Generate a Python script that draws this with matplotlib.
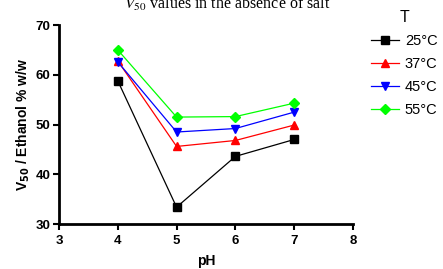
import matplotlib
matplotlib.use("Agg")
import matplotlib.pyplot as plt

# ------------------ DATOS ------------------
ph = [4, 5, 6, 7]
v50_25 = [58.8, 33.4, 43.6, 47.0]
v50_37 = [62.8, 45.6, 46.8, 49.9]
v50_45 = [62.6, 48.5, 49.2, 52.5]
v50_55 = [65.0, 51.5, 51.6, 54.3]
etiquetas = ["25°C", "37°C", "45°C", "55°C"]
colores = ["black", "#ff0000", "#0000ff", "#00ff00"]
marcadores = ["s", "^", "v", "D"]

plt.rcParams['font.family'] = ['Liberation Sans', 'DejaVu Sans']

fig = plt.figure(figsize=(4.43, 2.69), dpi=100)
ax = fig.add_axes([0.133, 0.167, 0.664, 0.74])

series = [v50_25, v50_37, v50_45, v50_55]
for y, lab, c, m in zip(series, etiquetas, colores, marcadores):
    ms = 5.5 if m != "D" else 5
    ax.plot(ph, y, color=c, marker=m, markersize=ms, linewidth=0.9, label=lab)

ax.set_xlim(3, 8)
ax.set_ylim(30, 70)
ax.set_xticks([3, 4, 5, 6, 7, 8])
ax.set_yticks([30, 40, 50, 60, 70])
for s in ["top", "right"]:
    ax.spines[s].set_visible(False)
for s in ["left", "bottom"]:
    ax.spines[s].set_linewidth(2)
ax.tick_params(direction="out", length=4, width=1.5, labelsize=9.5, pad=2)
ax.tick_params(axis="x", pad=4)
for t in ax.get_xticklabels() + ax.get_yticklabels():
    t.set_fontweight("bold")

ax.set_xlabel("pH", fontsize=10, fontweight="bold", labelpad=5)
ax.set_ylabel(r"V$_{\mathbf{50}}$ / Ethanol % w/w", fontsize=10, fontweight="bold", labelpad=3)

fig.text(0.512, 0.985, r"$V_{50}$ values in the absence of salt",
         ha="center", va="center", fontsize=11.5, family=["Liberation Serif", "DejaVu Serif"],
         math_fontfamily="stix")

leg = ax.legend(title="T", loc="upper left", bbox_to_anchor=(0.838, 0.962),
                bbox_transform=fig.transFigure, frameon=False, fontsize=10.5,
                title_fontsize=11.5, handlelength=1.9, handletextpad=0.4,
                labelspacing=0.62, borderaxespad=0, borderpad=0)

fig.savefig("out.png", dpi=100)
